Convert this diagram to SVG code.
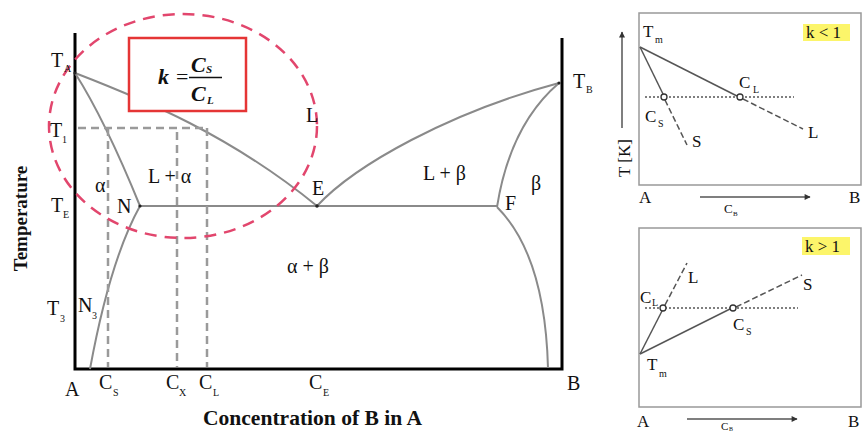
<svg xmlns="http://www.w3.org/2000/svg" width="863" height="432" viewBox="0 0 863 432">
<style>
text{font-family:"Liberation Serif","Times New Roman",serif;fill:#111;}
.lb{font-size:20px;}
.sb{font-size:10px;}
.sm{font-size:17px;}
.ax{stroke:#000;stroke-width:3;fill:none;}
.ph{stroke:#8a8a8a;stroke-width:2;fill:none;}
.gd{stroke:#9a9a9a;stroke-width:2.5;stroke-dasharray:8 5;fill:none;}
.pl{stroke:#555;stroke-width:1.5;fill:none;}
.pd{stroke:#555;stroke-width:1.5;stroke-dasharray:6 3;fill:none;}
.dot{stroke:#555;stroke-width:1.5;stroke-dasharray:2 2;fill:none;}
.frame{stroke:#999;stroke-width:1.5;fill:none;}
.oc{fill:#fff;stroke:#333;stroke-width:1.3;}
.hl{fill:#fcf56a;}
.fx{font-size:22px;font-style:italic;font-weight:bold;}
.fs{font-size:11px;font-style:italic;font-weight:bold;}
</style>
<defs>
<marker id="ah" viewBox="0 0 10 10" refX="9" refY="5" markerWidth="8" markerHeight="6" orient="auto" markerUnits="userSpaceOnUse">
<path d="M0,0 L10,5 L0,10 z" fill="#333"/>
</marker>
</defs>

<g id="main-axes">
<path class="ax" d="M75,33 V369 H562 V38"/>
</g>

<g id="connectors">
<path class="ph" d="M75,73 C145,100 230,135 317,206"/>
<path class="ph" d="M75,73 Q105,120 140,206"/>
<path class="ph" d="M140,206 Q110,260 90,369"/>
<path class="ph" d="M140,206 H497"/>
<path class="ph" d="M317,206 C355,165 450,112 559,83"/>
<path class="ph" d="M559,83 Q510,125 497,207"/>
<path class="ph" d="M497,207 Q545,255 548,368"/>
<path class="gd" d="M78,128 H207"/>
<path class="gd" d="M108,128 V367"/>
<path class="gd" d="M177,132 V367"/>
<path class="gd" d="M207,128 V367"/>
<circle cx="75" cy="73" r="1.6" fill="#222"/>
<circle cx="140" cy="206" r="1.6" fill="#222"/>
<circle cx="317" cy="206" r="1.8" fill="#222"/>
<circle cx="559" cy="83" r="1.6" fill="#222"/>
</g>

<g id="highlight-ellipse">
<ellipse cx="183" cy="126" rx="134" ry="112" fill="none" stroke="#e2466d" stroke-width="2.5" stroke-dasharray="12 8"/>
</g>

<g id="formula-box">
<rect x="129" y="38" width="117" height="73" fill="#fff" stroke="#e53535" stroke-width="2.5"/>
<text class="fx" x="158" y="84">k</text>
<text x="176" y="84" style="font-size:22px">=</text>
<text class="fx" x="191" y="72">C</text>
<text class="fs" x="206" y="73">S</text>
<line x1="189" y1="77.5" x2="222" y2="77.5" stroke="#111" stroke-width="1.5"/>
<text class="fx" x="191" y="101">C</text>
<text class="fs" x="207" y="104">L</text>
</g>

<g id="main-labels">
<text class="lb" x="51" y="67">T</text><text class="sb" x="64" y="72">A</text>
<text class="lb" x="50" y="137">T</text><text class="sb" x="62" y="143">1</text>
<text class="lb" x="51" y="212">T</text><text class="sb" x="63" y="218">E</text>
<text class="lb" x="47" y="315">T</text><text class="sb" x="60" y="322">3</text>
<text class="lb" x="78" y="312">N</text><text class="sb" x="92" y="319">3</text>
<text class="lb" x="117" y="213">N</text>
<text class="lb" x="95" y="192">α</text>
<text class="lb" x="148" y="183">L + α</text>
<text class="lb" x="306" y="122">L</text>
<text class="lb" x="312" y="195">E</text>
<text class="lb" x="423" y="180">L + β</text>
<text class="lb" x="531" y="190">β</text>
<text class="lb" x="505" y="210">F</text>
<text class="lb" x="573" y="88">T</text><text class="sb" x="586" y="93">B</text>
<text class="lb" x="287" y="273">α + β</text>
<text class="lb" x="65" y="396">A</text>
<text class="lb" x="99" y="389">C</text><text class="sb" x="113" y="396">S</text>
<text class="lb" x="166" y="389">C</text><text class="sb" x="179" y="396">X</text>
<text class="lb" x="199" y="389">C</text><text class="sb" x="213" y="396">L</text>
<text class="lb" x="309" y="389">C</text><text class="sb" x="323" y="396">E</text>
<text class="lb" x="567" y="390">B</text>
<text x="203" y="425" style="font-size:21px;font-weight:bold" textLength="219" lengthAdjust="spacingAndGlyphs">Concentration of B in A</text>
<text transform="translate(27,218.5) rotate(-90)" text-anchor="middle" style="font-size:19px;font-weight:bold">Temperature</text>
</g>

<g id="panel-k-less-1">
<rect class="frame" x="639" y="13" width="222" height="172"/>
<rect class="hl" x="803" y="24" width="47" height="17"/>
<text class="sm" x="806" y="38">k &lt; 1</text>
<line class="pl" x1="622" y1="128" x2="622" y2="32" marker-end="url(#ah)"/>
<text transform="translate(630,158) rotate(-90)" text-anchor="middle" class="sm">T [K]</text>
<line class="dot" x1="645" y1="97" x2="794" y2="97"/>
<line class="pl" x1="640" y1="47" x2="737" y2="96"/>
<line class="pd" x1="743" y1="99" x2="803" y2="129"/>
<line class="pl" x1="640" y1="47" x2="663" y2="94"/>
<line class="pd" x1="665" y1="100" x2="687" y2="145"/>
<circle class="oc" cx="740" cy="97" r="3"/>
<circle class="oc" cx="664" cy="97" r="3"/>
<text class="sm" x="643" y="37">T</text><text class="sb" x="655" y="43">m</text>
<text class="sm" x="739" y="88">C</text><text class="sb" x="753" y="93">L</text>
<text class="sm" x="645" y="122">C</text><text class="sb" x="658" y="127">S</text>
<text class="sm" x="808" y="138">L</text>
<text class="sm" x="692" y="147">S</text>
<text class="sm" x="639" y="203">A</text>
<text class="sm" x="849" y="203">B</text>
<line class="pl" x1="700" y1="197" x2="810" y2="197" marker-end="url(#ah)"/>
<text x="724" y="213" style="font-size:13px">C</text><text x="733" y="216" style="font-size:7px">B</text>
</g>

<g id="panel-k-greater-1">
<rect class="frame" x="639" y="228" width="222" height="179"/>
<rect class="hl" x="802" y="237" width="48" height="18"/>
<text class="sm" x="805" y="252">k &gt; 1</text>
<line class="dot" x1="645" y1="308" x2="798" y2="308"/>
<line class="pl" x1="640" y1="354" x2="662" y2="311"/>
<line class="pd" x1="665" y1="305" x2="687" y2="263"/>
<line class="pl" x1="640" y1="354" x2="730" y2="309"/>
<line class="pd" x1="736" y1="307" x2="802" y2="275"/>
<circle class="oc" cx="663" cy="308" r="3"/>
<circle class="oc" cx="733" cy="308" r="3"/>
<text class="sm" x="647" y="370">T</text><text class="sb" x="659" y="377">m</text>
<text class="sm" x="640" y="303">C</text><text class="sb" x="652" y="306">L</text>
<text class="sm" x="733" y="330">C</text><text class="sb" x="746" y="335">S</text>
<text class="sm" x="688" y="283">L</text>
<text class="sm" x="803" y="290">S</text>
<text class="sm" x="637" y="427">A</text>
<text class="sm" x="848" y="427">B</text>
<line class="pl" x1="687" y1="419" x2="797" y2="419" marker-end="url(#ah)"/>
<text x="721" y="430" style="font-size:11px">C</text><text x="729" y="431" style="font-size:6px">B</text>
</g>
</svg>
